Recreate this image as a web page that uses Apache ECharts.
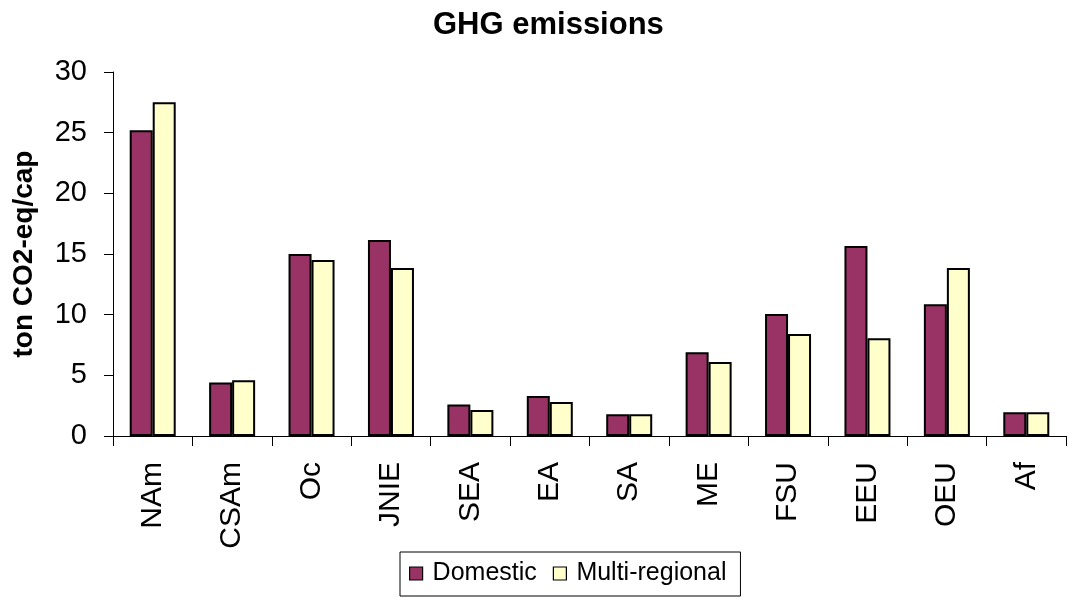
<!DOCTYPE html>
<html>
<head>
<meta charset="utf-8">
<script src="https://cdn.jsdelivr.net/npm/echarts@6/dist/echarts.min.js"></script>
<style>
html,body{margin:0;padding:0;background:#fff;}
#chart{width:1070px;height:598px;}
</style>
</head>
<body>
<div id="chart"></div>
<script>
const categories = ['NAm','CSAm','Oc','JNIE','SEA','EA','SA','ME','FSU','EEU','OEU','Af'];
const domestic = [25.2, 4.4, 15.0, 16.15, 2.6, 3.3, 1.8, 6.9, 10.05, 15.65, 10.85, 1.95];
const multiRegional = [27.5, 4.6, 14.5, 13.85, 2.15, 2.8, 1.8, 6.1, 8.4, 8.05, 13.85, 1.95];
const yTicks = [0, 5, 10, 15, 20, 25, 30];

const font = 'Liberation Sans, Arial, sans-serif';
const chart = echarts.init(document.getElementById('chart'));
chart.setOption({
  animation: false,
  backgroundColor: '#fff',
  title: {
    text: 'GHG emissions',
    left: 428,
    top: 5,
    textStyle: {fontFamily: font, fontWeight: 'bold', fontSize: 31, color: '#000'}
  },
  legend: {
    left: 400,
    top: 552,
    padding: [9, 14, 10, 9],
    borderColor: '#000',
    borderWidth: 1,
    backgroundColor: '#fff',
    itemWidth: 13,
    itemHeight: 13,
    itemGap: 16,
    icon: 'rect',
    itemStyle: {borderColor: '#000', borderWidth: 1.2},
    textStyle: {fontFamily: font, fontSize: 25, color: '#000', padding: [0,0,0,5]},
    data: ['Domestic', 'Multi-regional']
  },
  grid: {left: 113, right: 4, top: 72, bottom: 162, containLabel: false},
  xAxis: {
    type: 'category',
    data: categories,
    axisLine: {lineStyle: {color: '#000', width: 1}},
    axisTick: {show: true, length: 10, lineStyle: {color: '#000'}},
    axisLabel: {rotate: 90, margin: 26, fontFamily: font, fontSize: 30, color: '#000'},
    splitLine: {show: false}
  },
  yAxis: {
    type: 'value',
    min: yTicks[0],
    max: yTicks[yTicks.length - 1],
    interval: 5,
    name: 'ton CO2-eq/cap',
    nameLocation: 'middle',
    nameRotate: 90,
    nameGap: 75,
    nameTextStyle: {fontFamily: font, fontWeight: 'bold', fontSize: 28, color: '#000'},
    axisLine: {show: true, lineStyle: {color: '#000', width: 1}},
    axisTick: {show: true, length: 9, lineStyle: {color: '#000'}},
    axisLabel: {margin: 26, fontFamily: font, fontSize: 29, color: '#000'},
    splitLine: {show: false}
  },
  series: [
    {
      name: 'Domestic',
      type: 'bar',
      data: domestic,
      barWidth: 23,
      barGap: '0%',
      itemStyle: {color: '#993366', borderColor: '#000', borderWidth: 2}
    },
    {
      name: 'Multi-regional',
      type: 'bar',
      data: multiRegional,
      barWidth: 23,
      barGap: '0%',
      itemStyle: {color: '#FFFFCC', borderColor: '#000', borderWidth: 2}
    }
  ]
});
</script>
</body>
</html>
